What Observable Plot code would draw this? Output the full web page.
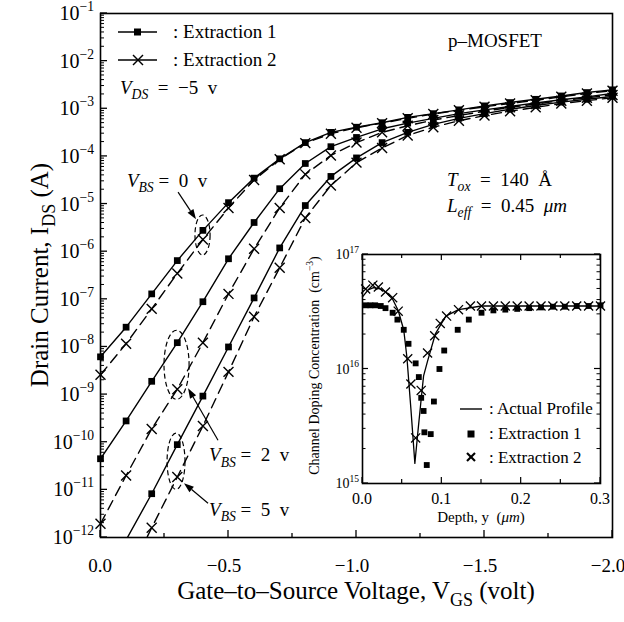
<!DOCTYPE html>
<html><head><meta charset="utf-8">
<script src="https://cdn.jsdelivr.net/npm/d3@7"></script>
<script src="https://cdn.jsdelivr.net/npm/@observablehq/plot@0.6"></script>
<style>
html,body{margin:0;padding:0;background:#fff;}
#wrap{position:relative;width:624px;height:622px;overflow:hidden;background:#fff;}
#wrap svg{position:absolute;overflow:visible;}
</style></head><body><div id="wrap"></div>
<script>
// ---------- DATA ----------
const vgs = [0,-0.1,-0.2,-0.3,-0.4,-0.5,-0.6,-0.7,-0.8,-0.9,-1.0,-1.1,-1.2,-1.3,-1.4,-1.5,-1.6,-1.7,-1.8,-1.9,-2.0];
const vbs0Ext1 = [6.2e-9,2.6e-8,1.3e-7,6.5e-7,2.8e-6,1.07e-5,3.5e-5,8.9e-5,1.95e-4,3.2e-4,4.1e-4,5.1e-4,6.6e-4,7.9e-4,9.5e-4,1.15e-3,1.35e-3,1.58e-3,1.86e-3,2.19e-3,2.5e-3];
const vbs0Ext2 = [2.6e-9,1.17e-8,6.3e-8,3.5e-7,1.8e-6,8.3e-6,3.2e-5,8.7e-5,1.9e-4,3.0e-4,4.0e-4,5.0e-4,6.3e-4,7.8e-4,9.3e-4,1.1e-3,1.29e-3,1.51e-3,1.78e-3,2.09e-3,2.4e-3];
const vbs2Ext1 = [4.5e-11,2.8e-10,1.9e-9,1.23e-8,8.9e-8,7.1e-7,4.1e-6,2.1e-5,7.1e-5,1.6e-4,2.5e-4,3.8e-4,5.0e-4,6.3e-4,7.9e-4,9.5e-4,1.12e-3,1.32e-3,1.55e-3,1.78e-3,2.1e-3];
const vbs2Ext2 = [1.95e-12,2.0e-11,1.9e-10,1.3e-9,1.23e-8,1.3e-7,1.15e-6,8.3e-6,4.2e-5,1.05e-4,1.95e-4,3.2e-4,4.4e-4,5.8e-4,7.2e-4,8.9e-4,1.07e-3,1.26e-3,1.48e-3,1.7e-3,1.95e-3];
const vbs5Ext1 = [null,8.9e-13,8.3e-12,8.9e-11,9.3e-10,1.0e-8,1.07e-7,1.2e-6,9.3e-6,3.8e-5,9.3e-5,1.95e-4,3.2e-4,4.7e-4,6.3e-4,7.9e-4,9.8e-4,1.17e-3,1.38e-3,1.58e-3,1.82e-3];
const vbs5Ext2 = [null,1.3e-13,1.6e-12,1.86e-11,2.2e-10,3.0e-9,4.3e-8,4.6e-7,5.1e-6,2.45e-5,7.4e-5,1.5e-4,2.75e-4,4.1e-4,5.6e-4,7.2e-4,8.9e-4,1.07e-3,1.29e-3,1.48e-3,1.7e-3];
const yDecades = [1e-12,1e-11,1e-10,1e-9,1e-8,1e-7,1e-6,1e-5,1e-4,1e-3,1e-2,1e-1];
const xMajorTicks = [0,-0.5,-1.0,-1.5,-2.0];
const xMajorLabels = ["0.0","\u22120.5","\u22121.0","\u22121.5","\u22122.0"];
const xMinorTicks = [-0.25,-0.75,-1.25,-1.75];

// inset: channel doping profile
const profileDepth = [0,0.007,0.014,0.022,0.03,0.038,0.045,0.052,0.056,0.061,0.066,0.070,0.074,0.077,0.082,0.092,0.105,0.121,0.15,0.2,0.3];
const profileConc  = [4.27e16,4.9e16,5.13e16,5.0e16,4.68e16,4.07e16,3.24e16,2.19e16,1.26e16,4.5e15,1.5e15,2.9e15,5.5e15,8.7e15,1.17e16,2.04e16,2.9e16,3.3e16,3.55e16,3.55e16,3.55e16];
const ext1Depth = [0.004,0.010,0.016,0.023,0.029,0.038,0.044,0.052,0.058,0.067,0.071,0.074,0.077,0.078,0.081,0.086,0.090,0.097,0.103,0.120,0.134,0.150,0.165,0.180,0.195,0.210,0.225,0.240,0.255,0.270,0.285,0.300];
const ext1Conc  = [3.6e16,3.6e16,3.6e16,3.55e16,3.4e16,3.1e16,2.7e16,2.2e16,1.66e16,1.12e16,8.5e15,5.6e15,4.3e15,2.8e15,1.45e15,2.7e15,5.2e15,1.0e16,1.45e16,2.2e16,2.7e16,3.1e16,3.25e16,3.3e16,3.35e16,3.4e16,3.45e16,3.5e16,3.5e16,3.55e16,3.55e16,3.6e16];
const ext2Depth = [0.004,0.013,0.020,0.029,0.038,0.045,0.057,0.061,0.067,0.074,0.082,0.091,0.098,0.106,0.121,0.136,0.150,0.165,0.180,0.195,0.210,0.225,0.240,0.255,0.270,0.285,0.300];
const ext2Conc  = [5.0e16,5.4e16,5.2e16,4.7e16,4.2e16,3.2e16,1.23e16,7.4e15,2.5e15,6.5e15,1.38e16,1.95e16,2.5e16,2.9e16,3.3e16,3.55e16,3.55e16,3.55e16,3.55e16,3.55e16,3.55e16,3.55e16,3.55e16,3.55e16,3.55e16,3.55e16,3.55e16];
const insetDecades = [1e15,1e16,1e17];
const insetXTicks = [0,0.1,0.2,0.3];
const insetXLabels = ["0.0","0.1","0.2","0.3"];
const insetXMinor = [0.05,0.15,0.25];

// annotation anchors (data coordinates)
const ellipses = [ // [v1, v2, i1, i2]
  [-0.371,-0.430,10**-5.24,10**-6.08],
  [-0.250,-0.348,10**-7.66,10**-9.11],
  [-0.262,-0.332,10**-9.82,10**-11.0]
];
const arrows = [ // [vFrom, iFrom, vTo, iTo]
  [-0.305,10**-4.76,-0.375,10**-5.33],
  [-0.461,10**-9.97,-0.344,10**-8.88],
  [-0.422,10**-11.29,-0.328,10**-10.87]
];
const vbsLabels = [ // [v, i, vbs]
  [-0.105,10**-4.655,"0"],
  [-0.426,10**-10.41,"2"],
  [-0.426,10**-11.55,"5"]
];

// ---------- HELPERS ----------
const SERIF = "'Liberation Serif','Times New Roman',serif";
const NS = "http://www.w3.org/2000/svg";
function el(tag, attrs = {}) {
  const e = document.createElementNS(NS, tag);
  for (const k in attrs) e.setAttribute(k, attrs[k]);
  return e;
}
function rich(parts, {x, y, size, anchor = "start", rotate = 0}) {
  const t = el("text", {x, y, "font-size": size, "font-family": SERIF, "text-anchor": anchor, fill: "black", style: "white-space:pre"});
  if (rotate) t.setAttribute("transform", `rotate(${rotate},${x},${y})`);
  let shift = 0;
  for (const p of parts) {
    const [s, st = ""] = Array.isArray(p) ? p : [p, ""];
    const ts = el("tspan");
    let target = 0, fs = size;
    if (st.includes("sub")) { target = size * 0.28; fs = size * 0.72; }
    if (st.includes("sup")) { target = -size * 0.45; fs = size * 0.68; }
    if (target !== shift) { ts.setAttribute("dy", target - shift); shift = target; }
    ts.setAttribute("font-size", fs);
    if (st.includes("i")) ts.setAttribute("font-style", "italic");
    ts.textContent = s;
    t.appendChild(ts);
  }
  return t;
}
function ln(g, x1, y1, x2, y2, w = 1.3, extra = {}) {
  g.appendChild(el("line", {x1, y1, x2, y2, stroke: "black", "stroke-width": w, ...extra}));
}
function expLabel(d) {
  const e = Math.round(Math.log10(d));
  return e < 0 ? "\u2212" + (-e) : String(e);
}

// ---------- MAIN CHART ----------
const series = [
  {key: "0-1", ext: 1, values: vbs0Ext1}, {key: "0-2", ext: 2, values: vbs0Ext2},
  {key: "2-1", ext: 1, values: vbs2Ext1}, {key: "2-2", ext: 2, values: vbs2Ext2},
  {key: "5-1", ext: 1, values: vbs5Ext1}, {key: "5-2", ext: 2, values: vbs5Ext2}
];
const rows = series.flatMap(s => s.values.map((i, k) => ({v: vgs[k], i, key: s.key, ext: s.ext}))).filter(d => d.i != null);

function mainDecor(index, scales, values, dims) {
  const x = scales.x, y = scales.y;
  const g = el("g");
  const L = dims.marginLeft, B = dims.height - dims.marginBottom, T = dims.marginTop, R = dims.width - dims.marginRight;
  // y ticks
  for (const d of yDecades) {
    ln(g, L, y(d), L + 7, y(d));
    g.appendChild(rich([["10"], [expLabel(d), "sup"]], {x: L - 6, y: y(d) + 7, size: 20, anchor: "end"}));
    if (d < 1e-1) for (let k = 2; k <= 9; k++) ln(g, L, y(d * k), L + 4, y(d * k), 1);
  }
  // x ticks
  xMajorTicks.forEach((t, j) => {
    ln(g, x(t), B, x(t), B - 7);
    g.appendChild(rich([[xMajorLabels[j]]], {x: x(t) - (t < 0 ? 4 : 0), y: B + 35, size: 19, anchor: "middle"}));
  });
  for (const t of xMinorTicks) ln(g, x(t), B, x(t), B - 4);
  // axis titles
  g.appendChild(rich([["Gate\u2013to\u2013Source Voltage, V"], ["GS", "sub"], [" (volt)"]], {x: (L + R) / 2, y: B + 62, size: 25, anchor: "middle"}));
  g.appendChild(rich([["Drain Current, I"], ["DS", "sub"], [" (A)"]], {x: 48, y: (T + B) / 2, size: 25, anchor: "middle", rotate: -90}));
  // legend
  ln(g, L + 18, T + 19, L + 57, T + 19, 1.4);
  g.appendChild(el("rect", {x: L + 37.5 - 3.5, y: T + 19 - 3.5, width: 7, height: 7, fill: "black"}));
  g.appendChild(rich([[": Extraction 1"]], {x: L + 73, y: T + 25, size: 19}));
  ln(g, L + 18, T + 47, L + 57, T + 47, 1.4);
  ln(g, L + 33, T + 42, L + 43, T + 52, 1.4); ln(g, L + 33, T + 52, L + 43, T + 42, 1.4);
  g.appendChild(rich([[": Extraction 2"]], {x: L + 73, y: T + 53, size: 19}));
  g.appendChild(rich([["V", "i"], ["DS", "isub"], ["  =  \u22125  v"]], {x: L + 20, y: T + 81, size: 19}));
  g.appendChild(rich([["p\u2013MOSFET"]], {x: L + 348, y: T + 34, size: 19}));
  g.appendChild(rich([["T", "i"], ["ox", "isub"], ["  =  140  \u00C5"]], {x: L + 347, y: T + 173, size: 19}));
  g.appendChild(rich([["L", "i"], ["eff", "isub"], ["  =  0.45  "], ["\u03BCm", "i"]], {x: L + 347, y: T + 199, size: 19}));
  // ellipses
  for (const [v1, v2, i1, i2] of ellipses) {
    const cx = (x(v1) + x(v2)) / 2, cy = (y(i1) + y(i2)) / 2;
    g.appendChild(el("ellipse", {cx, cy, rx: Math.abs(x(v2) - x(v1)) / 2, ry: Math.abs(y(i2) - y(i1)) / 2,
      fill: "none", stroke: "black", "stroke-width": 1.2, "stroke-dasharray": "5,3"}));
  }
  // arrows with filled heads
  for (const [va, ia, vb, ib] of arrows) {
    const x1 = x(va), y1 = y(ia), x2 = x(vb), y2 = y(ib);
    const a = Math.atan2(y2 - y1, x2 - x1), hl = 10, hw = 3.5;
    const bx = x2 - hl * Math.cos(a), by = y2 - hl * Math.sin(a);
    ln(g, x1, y1, bx, by, 1.2);
    const px = -Math.sin(a) * hw, py = Math.cos(a) * hw;
    g.appendChild(el("polygon", {points: `${x2},${y2} ${bx + px},${by + py} ${bx - px},${by - py}`, fill: "black"}));
  }
  for (const [v, i, s] of vbsLabels) {
    g.appendChild(rich([["V", "i"], ["BS", "isub"], [` =  ${s}  v`]], {x: x(v), y: y(i), size: 19}));
  }
  return g;
}

const main = Plot.plot({
  width: 624, height: 622,
  marginLeft: 100, marginRight: 12, marginTop: 13, marginBottom: 85,
  style: {background: "transparent", overflow: "visible"},
  x: {domain: [0, -2], axis: null},
  y: {type: "log", domain: [1e-12, 1e-1], axis: null},
  marks: [
    Plot.line(rows.filter(d => d.ext === 1), {x: "v", y: "i", z: "key", stroke: "black", strokeWidth: 1.4, clip: true}),
    Plot.line(rows.filter(d => d.ext === 2), {x: "v", y: "i", z: "key", stroke: "black", strokeWidth: 1.4, strokeDasharray: "10,6", clip: true}),
    Plot.dot(rows.filter(d => d.ext === 1 && d.i >= 1e-12), {x: "v", y: "i", symbol: "square", fill: "black", r: 3.8}),
    Plot.dot(rows.filter(d => d.ext === 2 && d.i >= 1e-12), {x: "v", y: "i", symbol: "times", stroke: "black", strokeWidth: 1.4, r: 4.6}),
    Plot.frame({stroke: "black", strokeWidth: 1.6}),
    mainDecor
  ]
});
main.style.left = "0px"; main.style.top = "0px";
document.getElementById("wrap").appendChild(main);

// ---------- INSET ----------
const profile = profileDepth.map((d, k) => ({d, c: profileConc[k]}));
const ext1 = ext1Depth.map((d, k) => ({d, c: ext1Conc[k]}));
const ext2 = ext2Depth.map((d, k) => ({d, c: ext2Conc[k]}));

function insetDecor(index, scales, values, dims) {
  const x = scales.x, y = scales.y;
  const g = el("g");
  const L = dims.marginLeft, B = dims.height - dims.marginBottom, T = dims.marginTop, R = dims.width - dims.marginRight;
  for (const d of insetDecades) {
    ln(g, L, y(d), L + 6, y(d), 1.2);
    g.appendChild(rich([["10"], [expLabel(d), "sup"]], {x: L - 3, y: y(d) + 5, size: 14, anchor: "end"}));
    if (d < 1e17) for (let k = 2; k <= 9; k++) { ln(g, L, y(d * k), L + 3.5, y(d * k), 1); ln(g, R, y(d * k), R - 3.5, y(d * k), 1); }
    ln(g, R, y(d), R - 6, y(d), 1.2);
  }
  insetXTicks.forEach((t, j) => {
    ln(g, x(t), B, x(t), B - 6, 1.2); ln(g, x(t), T, x(t), T + 6, 1.2);
    g.appendChild(rich([[insetXLabels[j]]], {x: x(t), y: B + 21, size: 16, anchor: "middle"}));
  });
  for (const t of insetXMinor) { ln(g, x(t), B, x(t), B - 4, 1.2); ln(g, x(t), T, x(t), T + 4, 1.2); }
  g.appendChild(rich([["Depth, y  ("], ["\u03BCm", "i"], [")"]], {x: (L + R) / 2, y: B + 39, size: 15, anchor: "middle"}));
  g.appendChild(rich([["Channel Doping Concentration  (cm"], ["\u22123", "sup"], [")", ""]], {x: L - 43, y: (T + B) / 2 - 3, size: 14, anchor: "middle", rotate: -90}));
  // legend
  const lx = L + 98;
  ln(g, lx, T + 155, lx + 22, T + 155, 1.4);
  g.appendChild(rich([[": Actual Profile"]], {x: lx + 29, y: T + 160, size: 17}));
  g.appendChild(el("rect", {x: lx + 11 - 3.5, y: T + 180 - 3.5, width: 7, height: 7, fill: "black"}));
  g.appendChild(rich([[": Extraction 1"]], {x: lx + 29, y: T + 185, size: 17}));
  ln(g, lx + 7, T + 199, lx + 15, T + 207, 2.2); ln(g, lx + 7, T + 207, lx + 15, T + 199, 2.2);
  g.appendChild(rich([[": Extraction 2"]], {x: lx + 29, y: T + 209, size: 17}));
  return g;
}

const inset = Plot.plot({
  width: 311, height: 284,
  marginLeft: 60, marginRight: 13, marginTop: 10, marginBottom: 45,
  style: {background: "transparent", overflow: "visible"},
  x: {domain: [0, 0.3], axis: null},
  y: {type: "log", domain: [1e15, 1e17], axis: null},
  marks: [
    Plot.frame({fill: "white", stroke: "none"}),
    Plot.line(profile, {x: "d", y: "c", stroke: "black", strokeWidth: 1.3}),
    Plot.dot(ext1, {x: "d", y: "c", symbol: "square", fill: "black", r: 3.3}),
    Plot.dot(ext2, {x: "d", y: "c", symbol: "times", stroke: "black", strokeWidth: 1.3, r: 4.2}),
    Plot.frame({stroke: "black", strokeWidth: 1.6}),
    insetDecor
  ]
});
inset.style.left = "302px"; inset.style.top = "244px";
document.getElementById("wrap").appendChild(inset);
</script></body></html>
